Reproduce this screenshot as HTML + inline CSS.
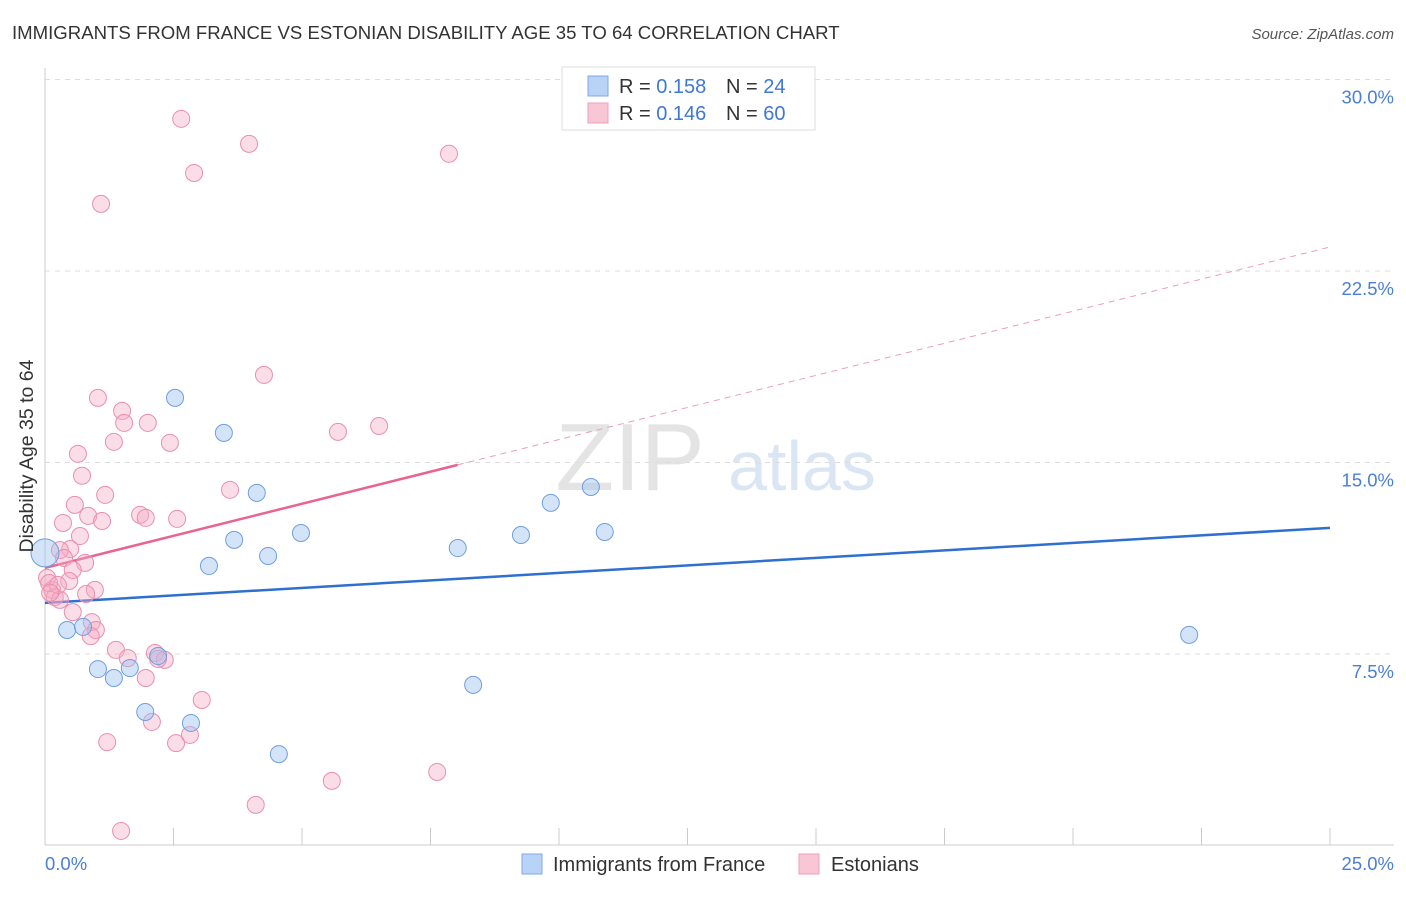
<!DOCTYPE html>
<html><head><meta charset="utf-8"><style>
body{margin:0;background:#fff;font-family:"Liberation Sans",sans-serif;}
svg text{font-family:"Liberation Sans",sans-serif;}
</style></head><body>
<svg id="chart" width="1406" height="892" xmlns="http://www.w3.org/2000/svg">
<text x="12" y="39" font-size="18.6" fill="#333">IMMIGRANTS FROM FRANCE VS ESTONIAN DISABILITY AGE 35 TO 64 CORRELATION CHART</text>
<text x="1394" y="39" font-size="15" fill="#555" font-style="italic" text-anchor="end">Source: ZipAtlas.com</text>
<text x="630" y="490" font-size="96" fill="#e4e4e4" font-family="Liberation Serif" text-anchor="middle">ZIP</text>
<text x="802" y="490" font-size="70" fill="#dbe6f5" text-anchor="middle">atlas</text>
<g id="grid"></g>
<g id="axes"></g>
<g id="lines"></g>
<g id="pts"></g>
<text transform="translate(33,456) rotate(-90)" font-size="19.5" fill="#333" text-anchor="middle">Disability Age 35 to 64</text>
<text x="45" y="870" font-size="18.5" fill="#4a7fd4">0.0%</text>
<text x="1394" y="870" font-size="18.5" fill="#4a7fd4" text-anchor="end">25.0%</text>
<g>
<rect x="562" y="67" width="253" height="63" fill="#fff" stroke="#ddd"/>
<rect x="588" y="76" width="20" height="20" fill="#b8d3f5" stroke="#7fa9e6"/>
<rect x="588" y="103" width="20" height="20" fill="#f9c6d6" stroke="#eda0b8"/>
<text x="619" y="93" font-size="20" fill="#333">R = <tspan fill="#3d78d6">0.158</tspan></text>
<text x="726" y="93" font-size="20" fill="#333">N = <tspan fill="#3d78d6">24</tspan></text>
<text x="619" y="120" font-size="20" fill="#333">R = <tspan fill="#3d78d6">0.146</tspan></text>
<text x="726" y="120" font-size="20" fill="#333">N = <tspan fill="#3d78d6">60</tspan></text>
</g>
<g>
<rect x="522" y="854" width="20" height="20" fill="#b8d3f5" stroke="#7fa9e6"/>
<text x="553" y="871" font-size="20" fill="#333">Immigrants from France</text>
<rect x="799" y="854" width="20" height="20" fill="#f9c6d6" stroke="#eda0b8"/>
<text x="831" y="871" font-size="20" fill="#333">Estonians</text>
</g>
</svg>
<script>
const yTicks=[7.5,15,22.5,30];
const yTickLabels=["7.5%","15.0%","22.5%","30.0%"];
const blueX=[0,0.43,0.74,1.03,1.34,1.65,1.95,2.20,2.53,2.84,3.19,3.48,3.68,4.12,4.34,4.55,4.98,8.03,8.33,9.26,9.84,10.62,10.89,22.26];
const blueY=[11.46,8.44,8.56,6.91,6.56,6.95,5.23,7.42,17.53,4.80,10.95,16.16,11.97,13.81,11.34,3.58,12.24,11.65,6.29,12.16,13.42,14.04,12.28,8.25];
const pinkX=[2.65,3.97,7.86,2.90,1.09,4.26,1.03,1.50,1.54,2.00,6.50,5.70,1.34,2.43,0.64,0.72,3.60,1.17,0.58,1.85,0.84,1.96,2.57,1.11,0.35,0.68,0.49,0.29,0.37,0.78,0.54,0.04,0.47,0.14,0.97,0.19,0.29,0.80,0.54,0.91,0.99,0.89,1.38,2.14,2.33,1.61,2.20,1.96,3.05,2.08,2.82,1.21,2.55,5.58,7.63,4.10,1.48,0.08,0.25,0.10];
const pinkY=[28.46,27.48,27.09,26.34,25.13,18.43,17.53,17.02,16.55,16.55,16.43,16.20,15.81,15.77,15.34,14.48,13.93,13.73,13.34,12.95,12.91,12.83,12.79,12.71,12.63,12.12,11.61,11.57,11.26,11.07,10.79,10.48,10.36,10.01,10.01,9.73,9.62,9.85,9.14,8.75,8.44,8.20,7.66,7.54,7.27,7.34,7.31,6.56,5.70,4.84,4.33,4.05,4.01,2.53,2.88,1.59,0.57,10.28,10.20,9.9];
const blueTrend=[9.50,12.44];
const pinkTrend=[10.87,23.44];
const pinkSolidEnd=8.03;
const NS="http://www.w3.org/2000/svg";
const sx=v=>45+v/25*1285;
const sy=v=>845.5-v/7.5*191.5;
function mk(tag,attrs,parent){const e=document.createElementNS(NS,tag);for(const k in attrs)e.setAttribute(k,attrs[k]);document.getElementById(parent).appendChild(e);return e;}
yTicks.forEach((t,i)=>{
 const g=mk('line',{x1:45,x2:1394,y1:sy(t),y2:sy(t),stroke:'#ddd','stroke-dasharray':'5,5'},'grid');
 
 
 const tx=mk('text',{x:1394,y:sy(t)+24,'font-size':18.5,fill:'#4a7fd4','text-anchor':'end'},'grid');
 tx.textContent=yTickLabels[i];
 
 
});
const ya=mk('line',{x1:45,x2:45,y1:68,y2:845,stroke:'#ccc'},'axes');


const xa=mk('line',{x1:45,x2:1394,y1:845,y2:845,stroke:'#ccc'},'axes');


for(let i=0;i<=10;i++){
 const t=mk('line',{x1:sx(i*2.5),x2:sx(i*2.5),y1:828,y2:845,stroke:'#ccc'},'axes');
 
 
}
const pyAt=v=>pinkTrend[0]+(pinkTrend[1]-pinkTrend[0])*v/25;
const bl=mk('line',{x1:sx(0),y1:sy(blueTrend[0]),x2:sx(25),y2:sy(blueTrend[1]),stroke:'#2f6fd0','stroke-width':2.5},'lines');


const pl=mk('line',{x1:sx(0),y1:sy(pinkTrend[0]),x2:sx(pinkSolidEnd),y2:sy(pyAt(pinkSolidEnd)),stroke:'#e8648e','stroke-width':2.5},'lines');


const pd=mk('line',{x1:sx(pinkSolidEnd),y1:sy(pyAt(pinkSolidEnd)),x2:sx(25),y2:sy(pinkTrend[1]),stroke:'#e8a0b8','stroke-width':1,'stroke-dasharray':'6,5'},'lines');


pinkX.forEach((x,i)=>{
 const c=mk('circle',{cx:sx(x),cy:sy(pinkY[i]),r:8.5,fill:'rgba(244,170,196,0.4)',stroke:'#e98fae','stroke-width':1},'pts');
 
 
});
blueX.forEach((x,i)=>{
 const c=mk('circle',{cx:sx(x),cy:sy(blueY[i]),r:i===0?14:8.5,fill:'rgba(160,196,240,0.45)',stroke:'#6f9ee0','stroke-width':1},'pts');
 
 
});
</script>
</body></html>
